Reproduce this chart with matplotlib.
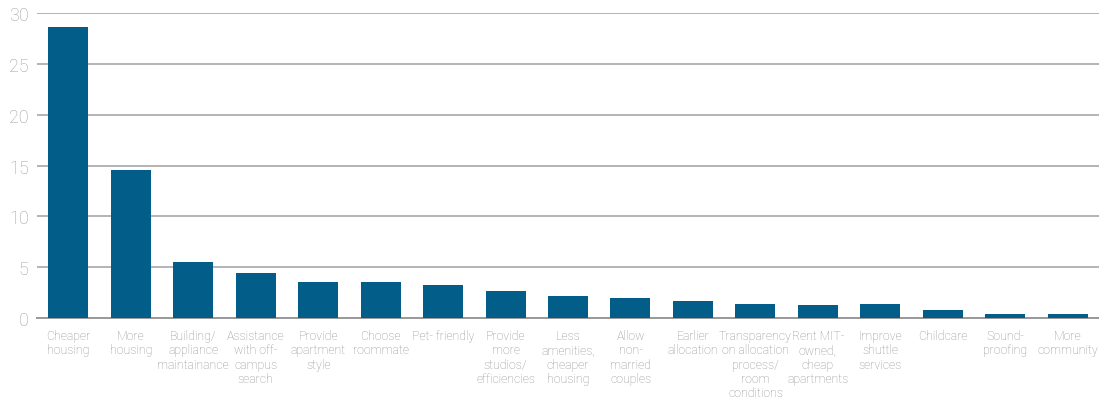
import matplotlib
matplotlib.use("Agg")
import matplotlib.pyplot as plt

CATEGORIES = [
    "Cheaper\nhousing",
    "More\nhousing",
    "Building/\nappliance\nmaintainance",
    "Assistance\nwith off-\ncampus\nsearch",
    "Provide\napartment\nstyle",
    "Choose\nroommate",
    "Pet- friendly",
    "Provide\nmore\nstudios/\nefficiencies",
    "Less\namenities,\ncheaper\nhousing",
    "Allow\nnon-\nmarried\ncouples",
    "Earlier\nallocation",
    "Transparency\non allocation\nprocess/\nroom\nconditions",
    "Rent MIT-\nowned,\ncheap\napartments",
    "Improve\nshuttle\nservices",
    "Childcare",
    "Sound-\nproofing",
    "More\ncommunity",
]
VALUES = [28.6, 14.6, 5.5, 4.4, 3.6, 3.6, 3.25, 2.65, 2.15, 1.95,
          1.65, 1.35, 1.25, 1.35, 0.85, 0.4, 0.4]
Y_TICKS = [0, 5, 10, 15, 20, 25, 30]

BAR_COLOR = "#035d89"
GRID_COLOR = "#b3b3b3"
TEXT_COLOR = "#8f8f8f"

plt.rcParams["font.family"] = ["Roboto", "DejaVu Sans"]
plt.rcParams["font.weight"] = "light"

fig = plt.figure(figsize=(10.99, 4.02), dpi=100)
ax = fig.add_axes([0.0337, 0.206, 0.9663, 0.759])

x = list(range(len(CATEGORIES)))
ax.bar(x, VALUES, width=0.64, color=BAR_COLOR, zorder=3)

ax.set_xlim(-0.5, len(CATEGORIES) - 0.5)
ax.set_ylim(0, 30)
ax.set_yticks(Y_TICKS)
ax.set_yticklabels([str(t) for t in Y_TICKS], fontsize=13, color="#a0a0a0")
ax.set_xticks(x)
ax.set_xticklabels(CATEGORIES, fontsize=8.8, color=TEXT_COLOR, linespacing=1.12)
ax.tick_params(axis="both", length=0)
ax.tick_params(axis="x", pad=8)
ax.tick_params(axis="y", pad=6)

ax.grid(axis="y", color=GRID_COLOR, linewidth=1.4, zorder=0)
for side in ["top", "right", "left"]:
    ax.spines[side].set_visible(False)
ax.spines["bottom"].set_color("#999999")
ax.spines["bottom"].set_linewidth(1.4)

fig.savefig("out.png", dpi=100)
